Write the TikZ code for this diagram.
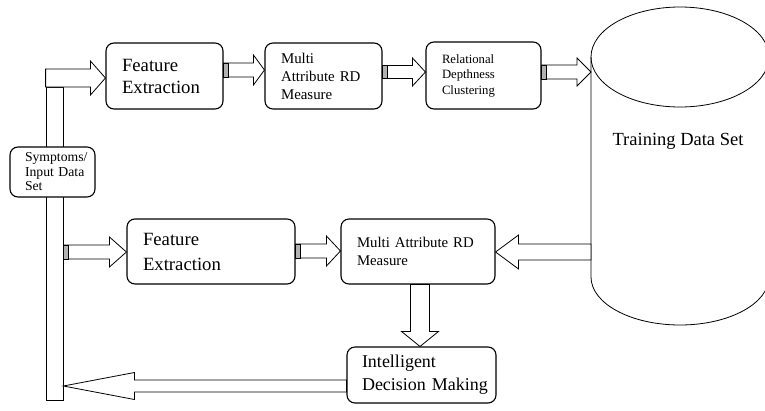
\documentclass[tikz,border=0pt]{standalone}
\usepackage{fontspec}
\setmainfont{Liberation Serif}
\usetikzlibrary{calc}

% hollow block arrow: tail, tip, half shaft, half head, head length
\newcommand{\blockarrow}[5]{%
  \coordinate (ba_base) at ($(#2)!#5!(#1)$);
  \draw[arrow_style] ($(#1)!#3!90:(#2)$) -- ($(ba_base)!#3!90:(#2)$)
    -- ($(ba_base)!#4!90:(#2)$) -- (#2) -- ($(ba_base)!#4!-90:(#2)$)
    -- ($(ba_base)!#3!-90:(#2)$) -- ($(#1)!#3!-90:(#2)$) -- cycle;}
% shaded strip at the tail of an arrow
\newcommand{\tailstrip}[2]{%
  \filldraw[strip_style] ($(#1)+(0,-#2)$) rectangle ($(#1)+(5,#2)$);}

\begin{document}
\begin{tikzpicture}
        [x=1pt, y=-1pt,
         box_style/.style={draw=black, line width=1.1pt, rounded corners=8pt, fill=white, align=left, inner sep=0pt},
         bar_style/.style={draw=black, line width=0.8pt, fill=white, inner sep=0pt, minimum width=17, minimum height=313},
         cyl_style/.style={inner sep=0pt, outer sep=0pt, minimum width=178, minimum height=318},
         cyl_line/.style={draw=black, line width=0.8pt},
         arrow_style/.style={draw=black, line width=0.8pt, fill=white},
         strip_style/.style={draw=black, line width=0.5pt, fill=gray!60}]
            \useasboundingbox (0,0) rectangle (765,410);
            \node[bar_style] (bar) at (54.5, 243.5) {};
            \node[box_style, minimum width=85, minimum height=50, text width=55, font=\fontsize{13.7}{14.5}\selectfont] (sym) at (52.5, 172) {\mbox{Symptoms/}\\\mbox{Input Data}\\Set};
            \node[box_style, minimum width=117, minimum height=66, text width=85, font=\fontsize{18.7}{22}\selectfont] (fe1) at (164.5, 76) {Feature\\Extraction};
            \node[box_style, minimum width=117, minimum height=66, text width=85, font=\fontsize{14.9}{18}\selectfont] (ma1) at (323.5, 76) {Multi\\Attribute RD\\Measure};
            \node[box_style, minimum width=115, minimum height=67, text width=83, font=\fontsize{12.7}{15.5}\selectfont] (rdc) at (483.5, 75.5) {Relational\\Depthness\\Clustering};
            % training data set cylinder
            \node[cyl_style] (tds) at (680, 166) {};
            \draw[cyl_line] ($(tds.north)+(0,50)$) ellipse [x radius=89pt, y radius=50pt];
            \draw[cyl_line] ($(tds.north west)+(0,50)$) -- ($(tds.south west)+(0,-48)$)
                arc[start angle=180, end angle=360, x radius=89pt, y radius=48pt] -- ($(tds.north east)+(0,50)$);
            \node[anchor=base, font=\fontsize{18.5}{22}\selectfont] (tds_text) at (678, 145) {Training Data Set};
            \node[box_style, minimum width=168, minimum height=65, text width=136, font=\fontsize{18.7}{25}\selectfont] (fe2) at (211, 251.5) {Feature\\Extraction};
            \node[box_style, minimum width=154, minimum height=65, text width=122, font=\fontsize{14.8}{18}\selectfont] (ma2) at (418, 251.5) {Multi Attribute RD\\Measure};
            \node[box_style, minimum width=149, minimum height=56, text width=119, font=\fontsize{18}{23}\selectfont] (idm) at (421.5, 375) {Intelligent\\\mbox{Decision Making}};
            \blockarrow{bar.north west |- 0,78}{fe1.west |- 0,78}{9pt}{17pt}{15pt}
            \blockarrow{fe1.east |- 0,70}{ma1.west |- 0,70}{7pt}{15pt}{11pt}
            \blockarrow{ma1.east |- 0,72}{rdc.west |- 0,72}{6.5pt}{14pt}{13pt}
            \blockarrow{rdc.east |- 0,72}{tds.west |- 0,72}{7pt}{14pt}{14pt}
            \blockarrow{bar.east |- 0,252}{fe2.west |- 0,252}{7pt}{15pt}{17pt}
            \blockarrow{fe2.east |- 0,251}{ma2.west |- 0,251}{7pt}{15pt}{14pt}
            \blockarrow{tds.west |- 0,252}{ma2.east |- 0,252}{8pt}{17pt}{23pt}
            \blockarrow{ma2.south -| 420,0}{idm.north -| 420,0}{9.5pt}{18.5pt}{15pt}
            \blockarrow{idm.west |- 0,386}{bar.east |- 0,386}{6pt}{13.5pt}{71pt}
            \tailstrip{fe1.east |- 0,70}{7}
            \tailstrip{ma1.east |- 0,72}{6.5}
            \tailstrip{rdc.east |- 0,72}{7}
            \tailstrip{bar.east |- 0,252}{7}
            \tailstrip{fe2.east |- 0,251}{7}
        \end{tikzpicture}
\end{document}
